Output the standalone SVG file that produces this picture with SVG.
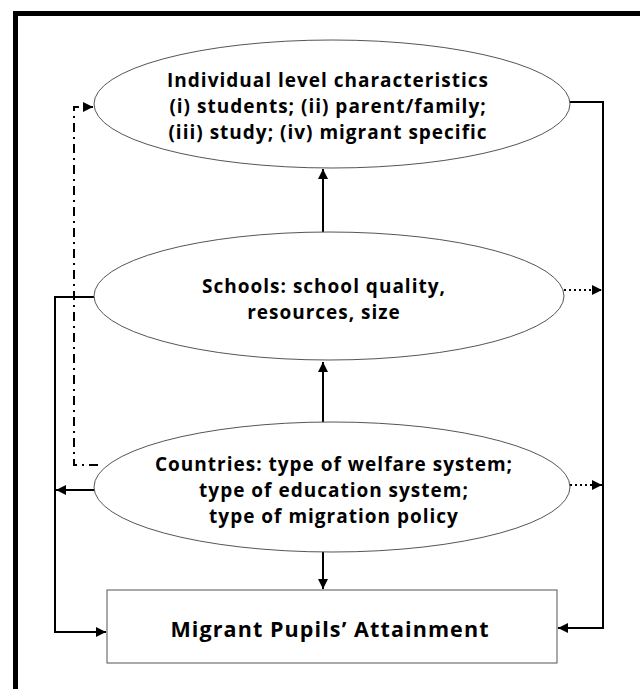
<svg xmlns="http://www.w3.org/2000/svg" width="640" height="689" viewBox="0 0 640 689">
  <style>
    .node { fill: #ffffff; stroke: #555555; stroke-width: 1; }
    .label { font-family: "Open Sans", "Liberation Sans", sans-serif; font-weight: 700; font-size: 19px; letter-spacing: 1px; fill: #000000; text-anchor: middle; }
    .big { font-size: 21.5px; letter-spacing: 1.1px; }
    .link { fill: none; stroke: #000000; stroke-width: 2; }
    .dotted { stroke-dasharray: 2 3; }
    .dashdot { stroke-dasharray: 9 5 2 5; }
  </style>
  <defs>
    <marker id="arrow" viewBox="0 0 10 10" refX="10" refY="5" markerWidth="5" markerHeight="5" markerUnits="strokeWidth" orient="auto">
      <path d="M0,0 L10,5 L0,10 z" fill="#000000"/>
    </marker>
  </defs>

  <rect width="640" height="689" fill="#ffffff"/>
  <!-- frame: top and left edges -->
  <path d="M15.5,689 V13.5 H640" fill="none" stroke="#000000" stroke-width="5"/>

  <g id="connectors">
    <path class="link" d="M570,102 H603 V628 H558" marker-end="url(#arrow)"/>
    <path class="link dotted" d="M564,290 H602" marker-end="url(#arrow)"/>
    <path class="link dotted" d="M570,485 H602" marker-end="url(#arrow)"/>
    <path class="link" d="M94,297 H55 V632 H106" marker-end="url(#arrow)"/>
    <path class="link" d="M94,490 H56" marker-end="url(#arrow)"/>
    <path class="link" d="M323,422 V362" marker-end="url(#arrow)"/>
    <path class="link" d="M323,232 V169" marker-end="url(#arrow)"/>
    <path class="link" d="M323,552 V589" marker-end="url(#arrow)"/>
    <path class="link dashdot" d="M98,465 H74 V107 H93" marker-end="url(#arrow)"/>
  </g>

  <g id="individual">
    <ellipse class="node" cx="332" cy="104" rx="238" ry="64"/>
    <text class="label" x="328" y="87">Individual level characteristics</text>
    <text class="label" x="328" y="113">(i) students; (ii) parent/family;</text>
    <text class="label" x="328" y="139">(iii) study; (iv) migrant specific</text>
  </g>

  <g id="schools">
    <ellipse class="node" cx="329" cy="296" rx="235" ry="64"/>
    <text class="label" x="324" y="293">Schools: school quality,</text>
    <text class="label" x="324" y="319">resources, size</text>
  </g>

  <g id="countries">
    <ellipse class="node" cx="332" cy="487" rx="238" ry="65"/>
    <text class="label" x="334" y="471">Countries: type of welfare system;</text>
    <text class="label" x="334" y="497">type of education system;</text>
    <text class="label" x="334" y="523">type of migration policy</text>
  </g>

  <g id="attainment">
    <rect class="node" x="107" y="590" width="450" height="73"/>
    <text class="label big" x="330" y="637">Migrant Pupils’ Attainment</text>
  </g>
</svg>
